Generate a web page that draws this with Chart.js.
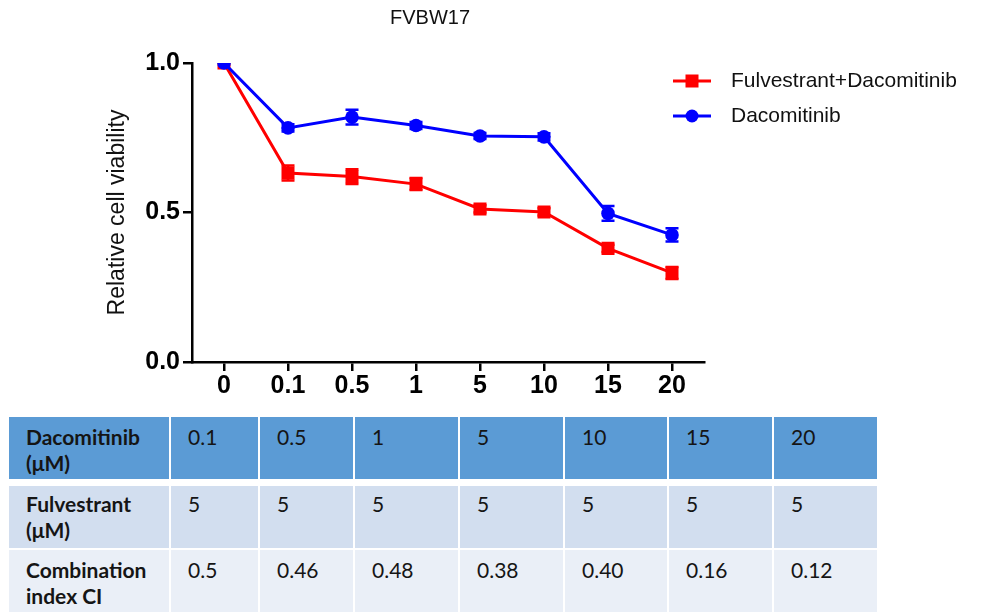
<!DOCTYPE html>
<html>
<head>
<meta charset="utf-8">
<title>FVBW17</title>
<script src="https://cdn.jsdelivr.net/npm/chart.js@4.4.1/dist/chart.umd.min.js"></script>
<style>
  html, body { margin: 0; padding: 0; background: #fff; }
  #wrap { position: relative; width: 995px; height: 613px; overflow: hidden; }
  #chart { position: absolute; left: 0; top: 0; }
  #tbl {
    position: absolute; left: 9px; top: 417px;
    display: grid;
    grid-template-columns: 160px 87px 93px 103px 103px 102px 103px 103px;
    column-gap: 2px;
    font-family: Lato, "Open Sans", sans-serif;
    font-size: 21px; line-height: 26px; color: #151515;
  }
  #tbl div { padding: 7px 0 0 17px; box-sizing: border-box; height: 62px; }
  #tbl .h { background: #5B9BD5; }
  #tbl .r2 { background: #D2DEEF; margin-top: 7px; padding-top: 5px; }
  #tbl .r3 { background: #EAEFF7; margin-top: 2px; padding-top: 7px; }
  #tbl .lab { font-weight: bold; }
</style>
</head>
<body>
<div id="wrap">
  <canvas id="chart" width="995" height="405"></canvas>
  <div id="tbl"></div>
</div>
<script>
// Dacomitinib concentrations (µM) on the x axis
const doses = ['0', '0.1', '0.5', '1', '5', '10', '15', '20'];

// Relative cell viability, mean and error per dose
const comboViability = [1.0, 0.632, 0.620, 0.595, 0.512, 0.502, 0.380, 0.298];
const comboError     = [0, 0.025, 0.025, 0.020, 0.012, 0.012, 0.012, 0.020];
const dacoViability  = [1.0, 0.783, 0.819, 0.791, 0.756, 0.753, 0.497, 0.425];
const dacoError      = [0, 0.012, 0.025, 0.012, 0.010, 0.012, 0.025, 0.022];

const yTicks = [0, 0.5, 1.0];

// Combination table
const tableDaco  = ['0.1', '0.5', '1', '5', '10', '15', '20'];
const tableFulv  = ['5', '5', '5', '5', '5', '5', '5'];
const tableCI    = ['0.5', '0.46', '0.48', '0.38', '0.40', '0.16', '0.12'];
const rowLabels  = ['Dacomitinib<br>(μM)', 'Fulvestrant<br>(μM)', 'Combination<br>index CI'];

const RED = '#FF0000';
const BLUE = '#0000FF';
const FONT = '"Liberation Sans", Arial, sans-serif';

// Error bars with caps, drawn in the series colour
const errorBars = {
  id: 'errorBars',
  afterDatasetsDraw(chart) {
    const ctx = chart.ctx;
    const yScale = chart.scales.y;
    chart.data.datasets.forEach((ds, i) => {
      const meta = chart.getDatasetMeta(i);
      ctx.save();
      ctx.strokeStyle = ds.borderColor;
      ctx.lineWidth = 2.5;
      meta.data.forEach((pt, j) => {
        const e = ds.errors[j];
        if (!e) return;
        const v = ds.data[j];
        const yt = yScale.getPixelForValue(v + e);
        const yb = yScale.getPixelForValue(v - e);
        const half = 6.5;
        ctx.beginPath();
        ctx.moveTo(pt.x, yt); ctx.lineTo(pt.x, yb);
        ctx.moveTo(pt.x - half, yt); ctx.lineTo(pt.x + half, yt);
        ctx.moveTo(pt.x - half, yb); ctx.lineTo(pt.x + half, yb);
        ctx.stroke();
      });
      ctx.restore();
    });
  }
};

// Chart title and the legend at the upper right
const decorations = {
  id: 'decorations',
  afterDraw(chart) {
    const ctx = chart.ctx;
    const area = chart.chartArea;
    ctx.save();
    ctx.fillStyle = '#111';
    ctx.font = '20px ' + FONT;
    ctx.textAlign = 'center';
    ctx.textBaseline = 'middle';
    ctx.fillText('FVBW17', (area.left + area.right) / 2 - 18, 18);

    const x0 = area.right - 31;
    [0, 1].forEach((i) => {
      const ds = chart.data.datasets[i];
      const y = area.top + 18 + i * 35;
      ctx.strokeStyle = ds.borderColor;
      ctx.lineWidth = 3;
      ctx.beginPath();
      ctx.moveTo(x0, y); ctx.lineTo(x0 + 38, y);
      ctx.stroke();
      ctx.fillStyle = ds.borderColor;
      const cx = x0 + 19;
      if (ds.pointStyle === 'rect') {
        ctx.fillRect(cx - 6.5, y - 6.5, 13, 13);
      } else {
        ctx.beginPath();
        ctx.arc(cx, y, 6.5, 0, Math.PI * 2);
        ctx.fill();
      }
      ctx.fillStyle = '#111';
      ctx.font = '21px ' + FONT;
      ctx.textAlign = 'left';
      ctx.fillText(ds.label, x0 + 58, y);
    });
    ctx.restore();
  }
};

new Chart(document.getElementById('chart'), {
  type: 'line',
  data: {
    labels: doses,
    datasets: [
      {
        label: 'Fulvestrant+Dacomitinib',
        data: comboViability,
        errors: comboError,
        borderColor: RED,
        backgroundColor: RED,
        borderWidth: 3,
        pointStyle: 'rect',
        pointRadius: 9.2,
        pointBorderWidth: 0,
        pointBackgroundColor: RED,
        tension: 0,
        order: 1
      },
      {
        label: 'Dacomitinib',
        data: dacoViability,
        errors: dacoError,
        borderColor: BLUE,
        backgroundColor: BLUE,
        borderWidth: 3,
        pointStyle: 'circle',
        pointRadius: 6.8,
        pointBorderWidth: 0,
        pointBackgroundColor: BLUE,
        tension: 0,
        order: 0
      }
    ]
  },
  options: {
    responsive: false,
    animation: false,
    layout: { padding: { left: 0, right: 291, top: 63, bottom: 0 } },
    plugins: {
      legend: { display: false },
      title: { display: false },
      tooltip: { enabled: false }
    },
    scales: {
      x: {
        type: 'category',
        offset: true,
        ticks: {
          color: '#000',
          font: { family: FONT, size: 25, weight: 'bold' },
          padding: 0,
          maxRotation: 0,
          autoSkip: false
        },
        grid: {
          drawOnChartArea: false,
          drawTicks: true,
          tickLength: 9,
          color: '#000',
          lineWidth: 2.5,
          offset: false
        },
        border: { color: '#000', width: 2.5 },
        afterFit(scale) { scale.height = 43; }
      },
      y: {
        min: 0,
        max: 1,
        afterBuildTicks(scale) { scale.ticks = yTicks.map(v => ({ value: v })); },
        ticks: {
          color: '#000',
          font: { family: FONT, size: 25, weight: 'bold' },
          padding: 3,
          callback: v => Number(v).toFixed(1)
        },
        grid: {
          drawOnChartArea: false,
          drawTicks: true,
          tickLength: 9,
          color: '#000',
          lineWidth: 2.5
        },
        border: { color: '#000', width: 2.5 },
        title: {
          display: true,
          text: 'Relative cell viability',
          color: '#111',
          font: { family: FONT, size: 23 },
          padding: { top: 104, bottom: 0 }
        },
        afterFit(scale) { scale.width = 192; }
      }
    }
  },
  plugins: [errorBars, decorations]
});

// Build the combination table from its arrays
const tbl = document.getElementById('tbl');
const rows = [
  { cls: 'h', vals: tableDaco },
  { cls: 'r2', vals: tableFulv },
  { cls: 'r3', vals: tableCI }
];
rows.forEach((r, i) => {
  const lab = document.createElement('div');
  lab.className = r.cls + ' lab';
  lab.innerHTML = rowLabels[i];
  tbl.appendChild(lab);
  r.vals.forEach(v => {
    const c = document.createElement('div');
    c.className = r.cls;
    c.textContent = v;
    tbl.appendChild(c);
  });
});
</script>
</body>
</html>
